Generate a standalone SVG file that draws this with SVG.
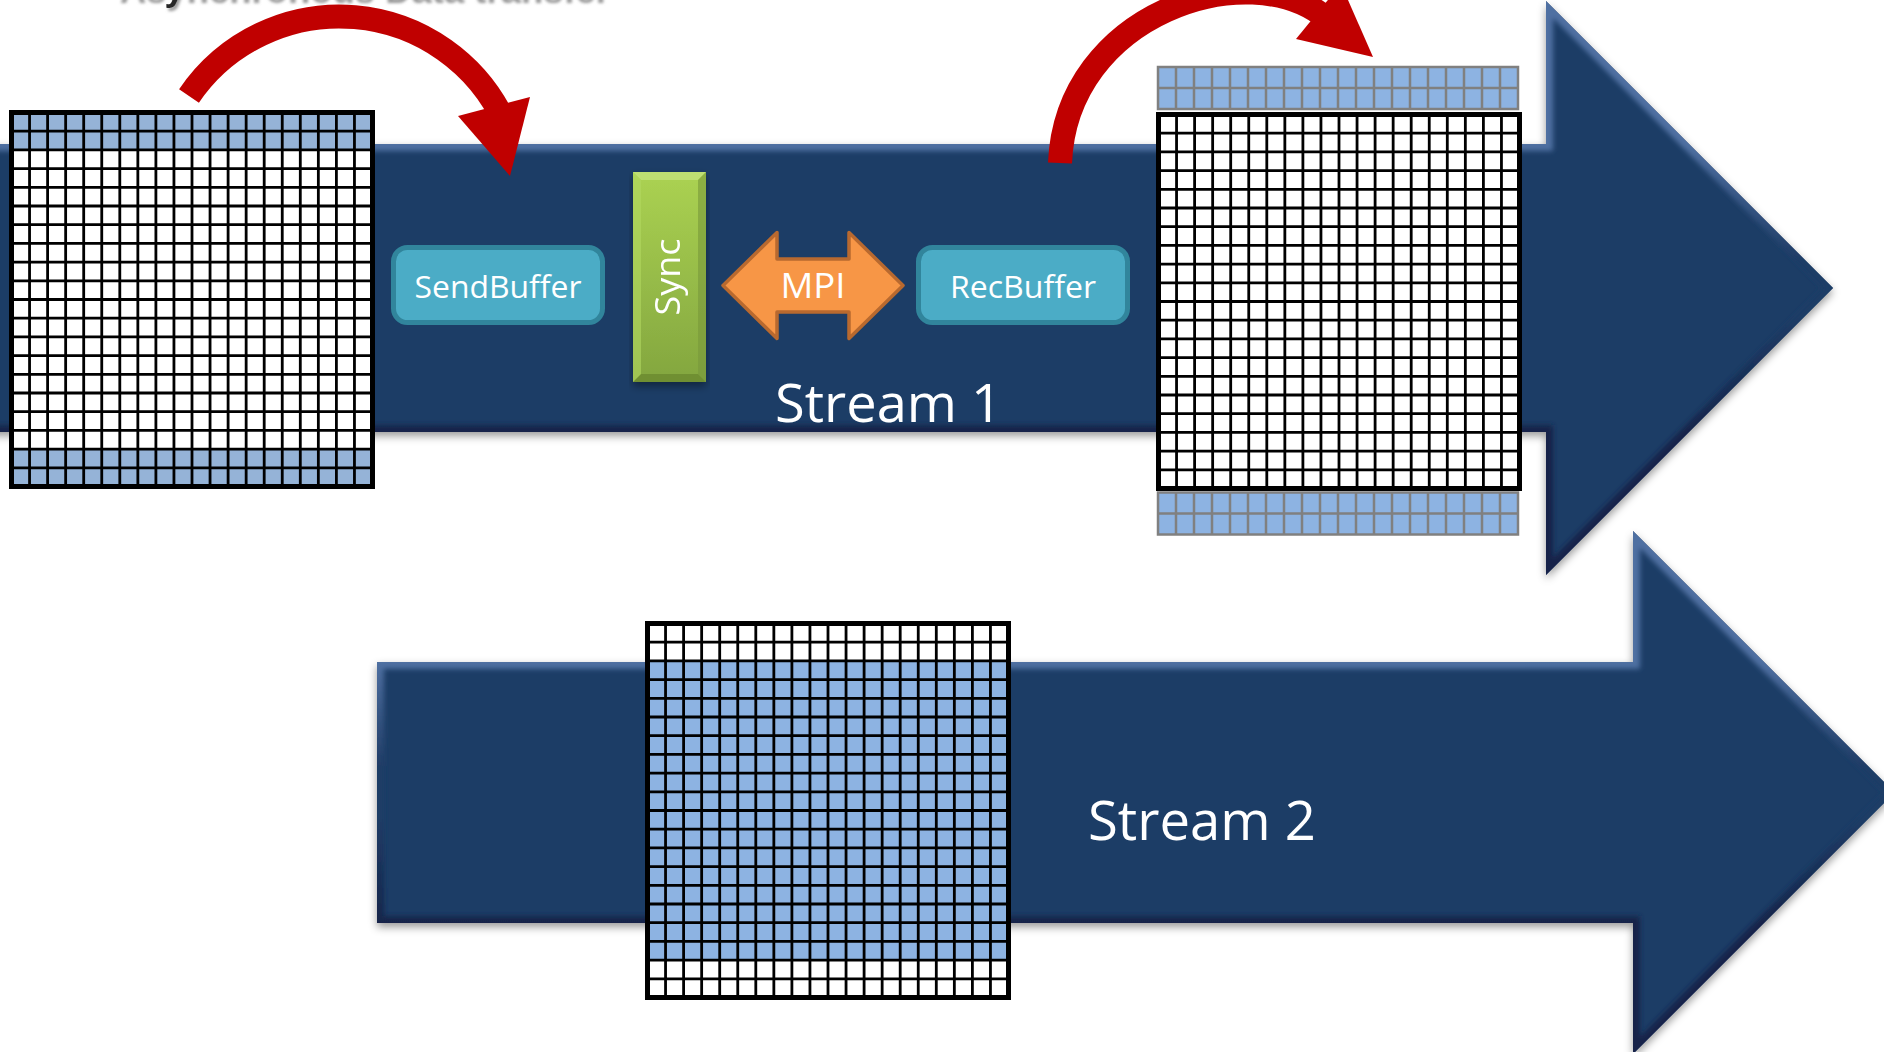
<svg xmlns="http://www.w3.org/2000/svg" width="1884" height="1052" viewBox="0 0 1884 1052">
<style>
  .lbl{font-family:'Open Sans','Noto Sans','Liberation Sans',sans-serif;fill:#fff}
  .title{font-family:'Liberation Sans',Arial,sans-serif;font-weight:bold;fill:#262626}
  .afill{fill:#1f3c66}
  .gl{stroke:#000;fill:none}
  .blue1{fill:#95b3d7}
  .blue2{fill:#8db3e2}
  .btn{fill:#4bacc6;stroke:#31859c;stroke-width:5}
  .red{fill:#c00000}
  .redline{fill:none;stroke:#c00000;stroke-width:24;stroke-linecap:butt}
</style>
<defs>
  <filter id="shadow" x="-5%" y="-5%" width="110%" height="115%">
    <feDropShadow dx="0" dy="4" stdDeviation="4" flood-color="#000" flood-opacity="0.4"/>
  </filter>
  <filter id="tshadow" x="-5%" y="-50%" width="110%" height="200%">
    <feDropShadow dx="2" dy="3" stdDeviation="1.6" flood-color="#7f7f7f" flood-opacity="0.8"/>
  </filter>
  <filter id="soft" x="-5%" y="-5%" width="110%" height="110%">
    <feGaussianBlur stdDeviation="2.5"/>
  </filter>
  <linearGradient id="bev1" gradientUnits="userSpaceOnUse" x1="0" y1="0" x2="0" y2="576">
    <stop offset="0" stop-color="#4f70a2"/>
    <stop offset="0.25" stop-color="#4f70a2"/>
    <stop offset="0.45" stop-color="#1f3c66"/>
    <stop offset="0.55" stop-color="#1f3c66"/>
    <stop offset="0.75" stop-color="#12244a"/>
    <stop offset="1" stop-color="#12244a"/>
  </linearGradient>
  <linearGradient id="bev2" gradientUnits="userSpaceOnUse" x1="0" y1="531" x2="0" y2="1054">
    <stop offset="0" stop-color="#4f70a2"/>
    <stop offset="0.25" stop-color="#4f70a2"/>
    <stop offset="0.45" stop-color="#1f3c66"/>
    <stop offset="0.55" stop-color="#1f3c66"/>
    <stop offset="0.75" stop-color="#12244a"/>
    <stop offset="1" stop-color="#12244a"/>
  </linearGradient>
  <linearGradient id="syncg" x1="0" y1="0" x2="0" y2="1">
    <stop offset="0" stop-color="#abd252"/>
    <stop offset="1" stop-color="#83a63f"/>
  </linearGradient>
  <polygon id="s1shape" points="-20,144 1546,144 1546,1 1833,288 1546,575 1546,432 -20,432"/>
  <polygon id="s2shape" points="377,662 1633,662 1633,531 1894.5,792.5 1633,1054 1633,923 377,923"/>
  <clipPath id="c1"><use href="#s1shape"/></clipPath>
  <clipPath id="c2"><use href="#s2shape"/></clipPath>
  <g id="gridLines">
    <path class="gl" stroke-width="2.8" d="M18.05 0V374M36.1 0V374M54.15 0V374M72.2 0V374M90.25 0V374M108.3 0V374M126.35 0V374M144.4 0V374M162.45 0V374M180.5 0V374M198.55 0V374M216.6 0V374M234.65 0V374M252.7 0V374M270.75 0V374M288.8 0V374M306.85 0V374M324.9 0V374M342.95 0V374M0 18.7H361M0 37.4H361M0 56.1H361M0 74.8H361M0 93.5H361M0 112.2H361M0 130.9H361M0 149.6H361M0 168.3H361M0 187H361M0 205.7H361M0 224.4H361M0 243.1H361M0 261.8H361M0 280.5H361M0 299.2H361M0 317.9H361M0 336.6H361M0 355.3H361"/>
    <rect class="gl" x="0" y="0" width="361" height="374" stroke-width="5"/>
  </g>
  <g id="haloStrip">
    <rect x="0" y="0" width="360" height="42" class="blue2" stroke="#808080" stroke-width="2.5"/>
    <path fill="none" stroke="#808080" stroke-width="2.5" d="M18 0V42M36 0V42M54 0V42M72 0V42M90 0V42M108 0V42M126 0V42M144 0V42M162 0V42M180 0V42M198 0V42M216 0V42M234 0V42M252 0V42M270 0V42M288 0V42M306 0V42M324 0V42M342 0V42M0 21H360"/>
  </g>
</defs>

<rect x="0" y="0" width="1884" height="1052" fill="#fff"/>

<text id="title" class="title" x="118" y="0" font-size="36" textLength="490" lengthAdjust="spacingAndGlyphs" filter="url(#tshadow)">Asynchronous Data transfer</text>

<g id="stream1">
  <use href="#s1shape" class="afill" filter="url(#shadow)"/>
  <g clip-path="url(#c1)">
    <use href="#s1shape" fill="none" stroke="url(#bev1)" stroke-width="14" filter="url(#soft)"/>
  </g>
  <text class="lbl" x="775" y="422" font-size="53" textLength="227" lengthAdjust="spacingAndGlyphs">Stream 1</text>
</g>

<g id="stream2">
  <use href="#s2shape" class="afill" filter="url(#shadow)"/>
  <g clip-path="url(#c2)">
    <use href="#s2shape" fill="none" stroke="url(#bev2)" stroke-width="14" filter="url(#soft)"/>
  </g>
  <text class="lbl" x="1088" y="840" font-size="54" textLength="228" lengthAdjust="spacingAndGlyphs">Stream 2</text>
</g>

<g id="gridSource" transform="translate(11.5,112.5)">
  <rect x="0" y="0" width="361" height="374" fill="#fff"/>
  <rect x="0" y="0" width="361" height="37.4" class="blue1"/>
  <rect x="0" y="336.6" width="361" height="37.4" class="blue1"/>
  <use href="#gridLines"/>
</g>

<g id="gridTarget">
  <use href="#haloStrip" transform="translate(1158,67)"/>
  <g transform="translate(1158.5,114.5)">
    <rect x="0" y="0" width="361" height="374" fill="#fff"/>
    <use href="#gridLines"/>
  </g>
  <use href="#haloStrip" transform="translate(1158,492.5)"/>
</g>

<g id="gridStream2" transform="translate(647.5,623.5)">
  <rect x="0" y="0" width="361" height="374" fill="#fff"/>
  <rect x="0" y="37.4" width="361" height="299.2" class="blue2"/>
  <use href="#gridLines"/>
</g>

<g id="sendBuffer">
  <rect class="btn" x="393.5" y="247.5" width="209" height="75" rx="14"/>
  <text class="lbl" x="498" y="298" font-size="31.5" text-anchor="middle" textLength="167" lengthAdjust="spacingAndGlyphs">SendBuffer</text>
</g>

<g id="sync" filter="url(#shadow)">
  <rect x="633" y="172" width="73" height="210" fill="url(#syncg)"/>
  <polygon points="633,172 706,172 698,180 641,180" fill="#c3e27a" opacity="0.8"/>
  <polygon points="633,382 706,382 698,374 641,374" fill="#6a8a2e" opacity="0.8"/>
  <polygon points="633,172 641,180 641,374 633,382" fill="#b2d860" opacity="0.6"/>
  <polygon points="706,172 698,180 698,374 706,382" fill="#78983a" opacity="0.6"/>
  <text class="lbl" transform="translate(680,277) rotate(-90)" x="0" y="0" font-size="34" text-anchor="middle" textLength="77" lengthAdjust="spacingAndGlyphs">Sync</text>
</g>

<g id="mpi">
  <polygon points="723,285.5 777,232.5 777,259 849,259 849,232.5 903,285.5 849,338.5 849,312 777,312 777,338.5" fill="#f79646" stroke="#b8692f" stroke-width="3.5" stroke-linejoin="round"/>
  <text class="lbl" x="813" y="298" font-size="35" text-anchor="middle" textLength="65" lengthAdjust="spacingAndGlyphs">MPI</text>
</g>

<g id="recBuffer">
  <rect class="btn" x="918.5" y="247.5" width="209" height="75" rx="14"/>
  <text class="lbl" x="1023" y="298" font-size="31.5" text-anchor="middle" textLength="146" lengthAdjust="spacingAndGlyphs">RecBuffer</text>
</g>

<g id="connectors">
  <g id="arrowSend">
    <path class="redline" d="M189 96 A182 182 0 0 1 505 123"/>
    <polygon class="red" points="458,116 530,97 510,176"/>
  </g>
  <g id="arrowRecv">
    <path class="redline" d="M1060 163 C1066 13 1249 -46 1326 18"/>
    <polygon class="red" points="1296,39 1341,-16 1373,57"/>
  </g>
</g>
</svg>
